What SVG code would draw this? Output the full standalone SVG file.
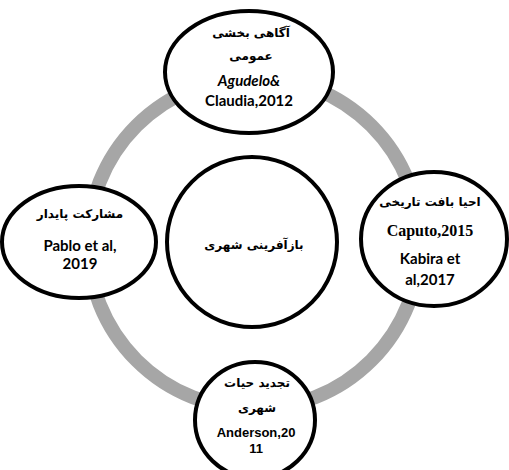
<svg xmlns="http://www.w3.org/2000/svg" width="509" height="470" viewBox="0 0 509 470">
<style>
.node{fill:#ffffff;stroke:#000000;stroke-width:4}
.fa{font-family:"DejaVu Sans","Liberation Sans",sans-serif;font-weight:bold;font-size:12px;fill:#000;text-anchor:middle}
.en{font-family:Lato,"Liberation Sans",sans-serif;font-weight:bold;font-size:15px;fill:#000;text-anchor:middle}
.ar{font-family:"Liberation Sans",Arial,sans-serif;font-weight:bold;font-size:13px;fill:#000;text-anchor:middle}
.tm{font-family:"Liberation Serif","Times New Roman",serif;font-weight:bold;font-size:16px;fill:#000;text-anchor:middle}
</style>
<rect width="509" height="470" fill="#ffffff"/>
<g id="connectors">
<circle cx="254" cy="243" r="166" fill="none" stroke="#a6a6a6" stroke-width="14"/>
</g>
<g id="center">
<circle class="node" cx="252" cy="242" r="85"/>
<text class="fa" x="254" y="249" direction="rtl">بازآفرینی شهری</text>
</g>
<g id="top">
<ellipse class="node" cx="249" cy="72" rx="84" ry="61"/>
<text class="fa" x="251" y="37" direction="rtl">آگاهی بخشی</text>
<text class="fa" x="251" y="60" direction="rtl">عمومی</text>
<text class="en" x="249" y="86" font-size="17" font-style="italic">Agudelo&amp;</text>
<text class="en" x="249" y="106" font-size="17">Claudia,2012</text>
</g>
<g id="right">
<ellipse class="node" cx="434" cy="239" rx="73" ry="67"/>
<text class="fa" x="430" y="206" direction="rtl">احیا بافت تاریخی</text>
<text class="tm" x="430" y="236">Caputo,2015</text>
<text class="en" x="430" y="264">Kabira et</text>
<text class="en" x="430" y="285">al,2017</text>
</g>
<g id="left">
<ellipse class="node" cx="79" cy="242" rx="77" ry="56"/>
<text class="fa" x="80" y="218" direction="rtl">مشارکت پایدار</text>
<text class="en" x="80" y="251" font-size="16">Pablo et al,</text>
<text class="en" x="80" y="269" font-size="16">2019</text>
</g>
<g id="bottom">
<ellipse class="node" cx="255" cy="420" rx="60" ry="58"/>
<text class="fa" x="257" y="387" direction="rtl">تجدید حیات</text>
<text class="fa" x="257" y="412" direction="rtl">شهری</text>
<text class="ar" x="256" y="437">Anderson,20</text>
<text class="ar" x="256" y="453">11</text>
</g>
</svg>
